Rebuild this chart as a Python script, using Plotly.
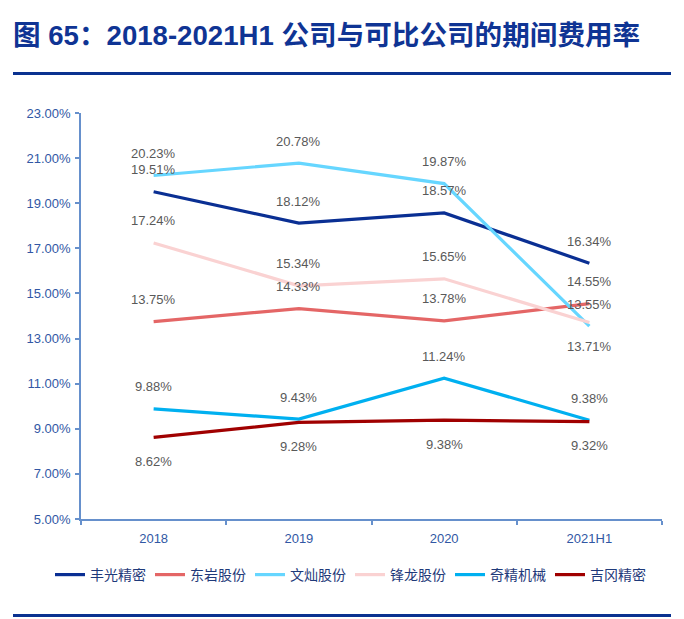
import plotly.graph_objects as go

categories = ["2018", "2019", "2020", "2021H1"]
fengguang = [19.51, 18.12, 18.57, 16.34]
dongyan = [13.75, 14.33, 13.78, 14.55]
wencan = [20.23, 20.78, 19.87, 13.55]
fenglong = [17.24, 15.34, 15.65, 13.71]
qijing = [9.88, 9.43, 11.24, 9.38]
jigang = [8.62, 9.28, 9.38, 9.32]
yticks = [5, 7, 9, 11, 13, 15, 17, 19, 21, 23]

series = [
    ("丰光精密", fengguang, "#0A2F93", ["up", "up", "up", "up"]),
    ("东岩股份", dongyan, "#E46666", ["up", "up", "up", "up"]),
    ("文灿股份", wencan, "#66D6FF", ["up", "up", "up", "up"]),
    ("锋龙股份", fenglong, "#FAD2D2", ["up", "up", "up", "down"]),
    ("奇精机械", qijing, "#00B0F0", ["up", "up", "up", "up"]),
    ("吉冈精密", jigang, "#A00000", ["down", "down", "down", "down"]),
]

# page body has an 8px margin; lay out the figure so that screen pixels match
OFF = 8
W, H = 684, 619
L, T = 81 - OFF, 113 - OFF
pw, ph = 581, 406
R = W - L - pw
B = H - T - ph

def py(y_screen):
    return (T + ph - (y_screen - OFF)) / ph

def px(x_screen):
    return (x_screen - OFF - L) / pw

fig = go.Figure()
annotations = []
for name, vals, color, pos in series:
    fig.add_trace(go.Scatter(
        x=categories, y=vals, mode="lines", name=name,
        line=dict(color=color, width=3.2),
    ))
    for i, (v, p) in enumerate(zip(vals, pos)):
        annotations.append(dict(
            x=i, y=v, xref="x", yref="y", text=f"{v:.2f}%",
            showarrow=False, yshift=22 if p == "up" else -24,
            font=dict(family="Liberation Sans, Arial, sans-serif", size=13, color="#595959"),
            xanchor="center", yanchor="middle",
        ))

annotations.append(dict(
    x=px(11), y=py(36), xref="paper", yref="paper",
    text="<b>图 65：2018-2021H1 公司与可比公司的期间费用率</b>",
    showarrow=False, xanchor="left", yanchor="middle",
    font=dict(family="Liberation Sans, Noto Sans CJK SC, sans-serif", size=27.6, color="#0F3494"),
))

shapes = [
    dict(type="line", xref="paper", yref="paper", x0=px(13), x1=px(671), y0=py(73.5), y1=py(73.5),
         line=dict(color="#0A3290", width=3)),
    dict(type="line", xref="paper", yref="paper", x0=px(13), x1=px(671), y0=py(615.5), y1=py(615.5),
         line=dict(color="#0A3290", width=3)),
]

axis_color = "#6690CC"
tick_font = dict(family="Liberation Sans, Arial, sans-serif", size=13, color="#3157A4")

fig.update_layout(
    width=W, height=H,
    margin=dict(l=L, r=R, t=T, b=B, autoexpand=False),
    paper_bgcolor="white", plot_bgcolor="white",
    showlegend=True,
    legend=dict(orientation="h", xref="paper", yref="paper", x=px(50), xanchor="left",
                y=py(575), yanchor="middle",
                font=dict(family="Noto Sans CJK SC, sans-serif", size=14, color="#1F3A7A"),
                entrywidth=55, entrywidthmode="pixels", itemwidth=30, tracegroupgap=0),
    annotations=annotations,
    shapes=shapes,
    xaxis=dict(type="category", range=[-0.5, 3.5], showgrid=False, zeroline=False,
               showline=True, linecolor=axis_color, linewidth=1.5,
               ticks="outside", tickson="boundaries", ticklen=4, tickcolor=axis_color, tickwidth=1.5,
               ticklabelstandoff=7,
               tickfont=tick_font, fixedrange=True),
    yaxis=dict(range=[5, 23], tickvals=yticks, ticktext=[f"{v:.2f}%" for v in yticks],
               showgrid=False, zeroline=False, showline=True, linecolor=axis_color, linewidth=1.5,
               ticks="outside", ticklen=4, tickcolor=axis_color, tickwidth=1.5,
               ticklabelstandoff=2,
               tickfont=tick_font, fixedrange=True),
)

fig.write_html("out.html")
